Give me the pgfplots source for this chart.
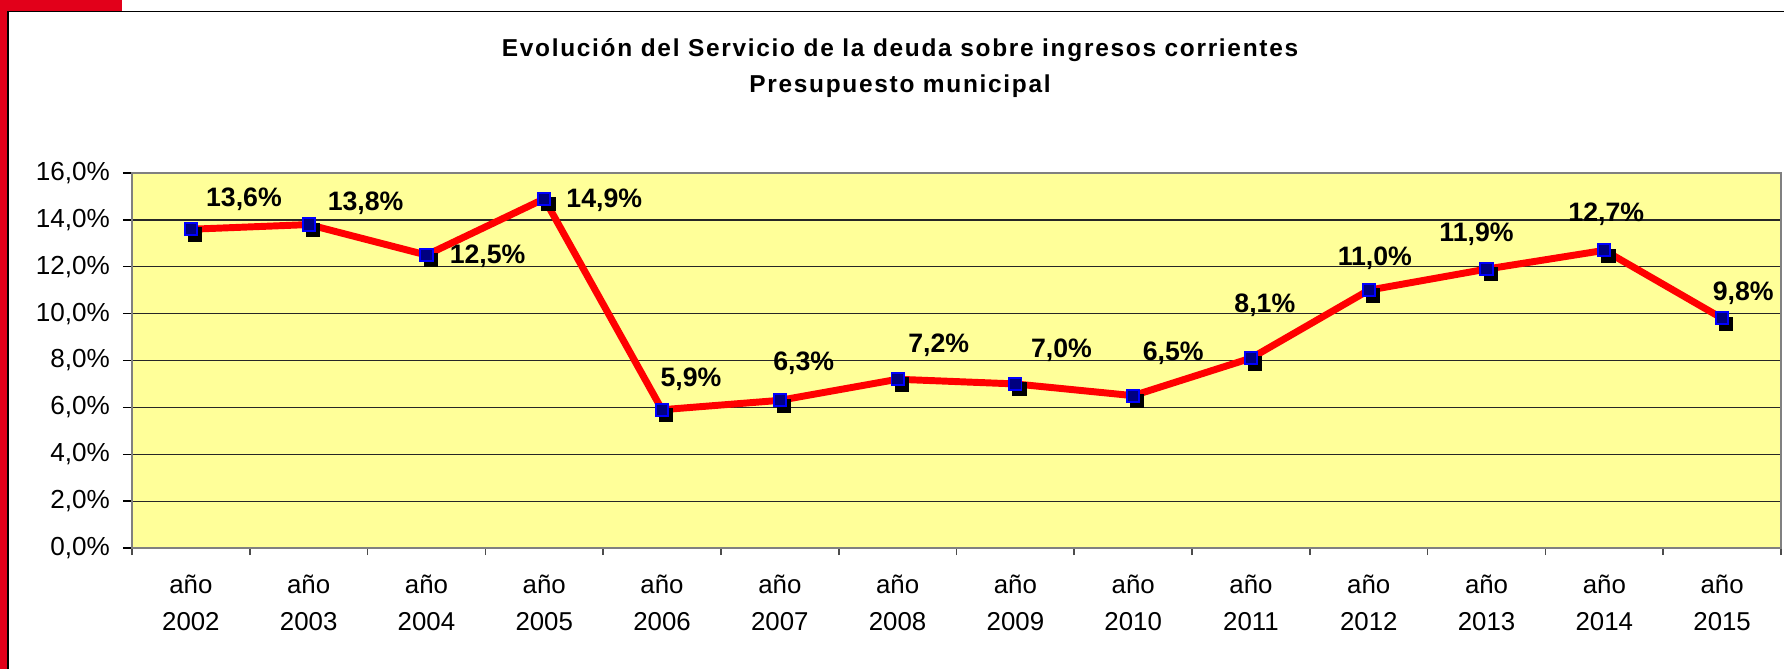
\documentclass[border=0pt]{standalone}
\usepackage{pgfplots}
\pgfplotsset{compat=1.18}
\usepackage{pgfplotstable}
\usepackage{fontspec}
\setmainfont{Liberation Sans}
\newfontfamily\titlefont[LetterSpace=7]{Liberation Sans}
\definecolor{exred}{RGB}{226,0,26}
\definecolor{plotbg}{RGB}{255,255,153}
\definecolor{navy}{RGB}{0,0,128}
\definecolor{lblue}{RGB}{0,0,255}
\definecolor{linered}{RGB}{255,0,0}

\pgfplotstableread{
x y dx dy
0 13.6 19.1 10.8
1 13.8 20.5 7.6
2 12.5 22.0 -0.4
3 14.9 21.6 -0.7
4 5.9 10.4 10.8
5 6.3 8.6 13.3
6 7.2 14.8 12.2
7 7.0 16.6 12.2
8 6.5 14.4 15.1
9 8.1 5.0 19.1
10 11.0 2.2 11.5
11 11.9 -3.6 12.6
12 12.7 0.7 13.0
13 9.8 7.6 9.0
}\datatable

\begin{document}
\begin{tikzpicture}
\path[use as bounding box] (0,0) rectangle (642.24pt,-240.84pt);
\fill[white] (0,0) rectangle (642.24pt,-240.84pt);
\fill[exred] (0,0) rectangle (2.52pt,-240.84pt);
\fill[exred] (0,0) rectangle (43.92pt,-3.96pt);
\draw[black, line width=0.6pt] (2.95pt,-240.84pt) |- (642.24pt,-4.15pt);

\node[font=\titlefont\bfseries\fontsize{8.8}{10}\selectfont, anchor=base, inner sep=0pt] at (324pt,-20.2pt) {Evolución del Servicio de la deuda sobre ingresos corrientes};
\node[font=\titlefont\bfseries\fontsize{8.8}{10}\selectfont, anchor=base, inner sep=0pt] at (324pt,-33.2pt) {Presupuesto municipal};

\begin{axis}[
  at={(47.52pt,-197.28pt)}, anchor=south west,
  scale only axis, width=593.64pt, height=135pt,
  xmin=-0.5, xmax=13.5, ymin=0, ymax=16,
  /pgf/number format/assume math mode=true,
  ytick={0,2,...,16},
  yticklabel={\pgfmathprintnumber[fixed,fixed zerofill,precision=1,use comma]{\tick}\%},
  xtick={0,...,13},
  xticklabels={{año\\2002},{año\\2003},{año\\2004},{año\\2005},{año\\2006},{año\\2007},{año\\2008},{año\\2009},{año\\2010},{año\\2011},{año\\2012},{año\\2013},{año\\2014},{año\\2015}},
  minor xtick={-0.5,0.5,...,13.5},
  xtick pos=bottom, ytick pos=left,
  tick align=outside,
  major tick length=3.24pt,
  minor tick length=2.6pt,
  major x tick style={draw=none},
  tick style={black, line width=0.5pt},
  minor tick style={black!70, line width=0.6pt},
  ymajorgrids,
  grid style={black!85, line width=0.45pt},
  axis background/.style={fill=plotbg},
  axis line style={draw=black!50, line width=0.8pt},
  yticklabel style={anchor=east, inner sep=0pt, xshift=-4.5pt, font=\fontsize{9.4}{11}\selectfont},
  xticklabel style={align=center, anchor=north, inner sep=0pt, yshift=-6.1pt, font=\fontsize{9.3}{13.6}\selectfont},
  clip=false,
]
\addplot[linered, line width=2.5pt, mark=none] table[x=x,y=y]{\datatable};
\addplot[only marks, mark=square*, mark size=2.2pt, mark options={fill=black, draw=black, line width=0.7pt, xshift=1.5pt, yshift=-1.9pt}] table[x=x,y=y]{\datatable};
\addplot[only marks, mark=square*, mark size=2.2pt, mark options={fill=navy, draw=lblue, line width=0.7pt},
  point meta=y,
  visualization depends on={\thisrow{dx}\as\dx},
  visualization depends on={\thisrow{dy}\as\dy},
  nodes near coords={\pgfmathprintnumber[fixed,fixed zerofill,precision=1,use comma]{\pgfplotspointmeta}\%},
  every node near coord/.append style={anchor=center, xshift=\dx pt, yshift=\dy pt, font=\bfseries\fontsize{9.6}{11}\selectfont, inner sep=0pt, text=black},
] table[x=x,y=y]{\datatable};
\end{axis}
\end{tikzpicture}
\end{document}
